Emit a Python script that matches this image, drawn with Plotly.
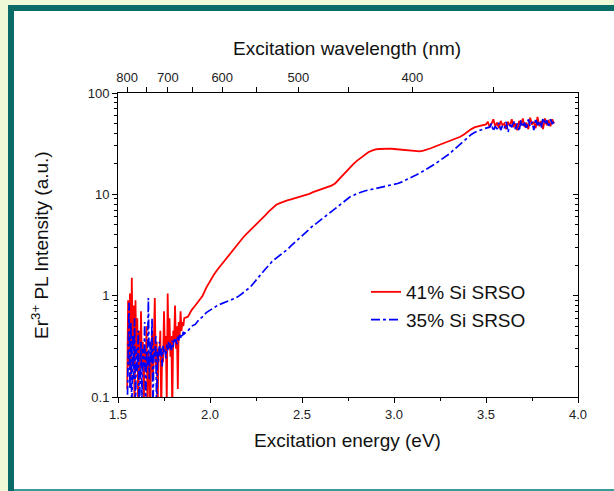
import plotly.graph_objects as go

# ---------------- data ----------------
# 41% Si SRSO (red, solid)
red_e_low = [1.550, 1.555, 1.560, 1.565, 1.570, 1.575, 1.580, 1.585, 1.590, 1.595,
             1.600, 1.605, 1.610, 1.615, 1.620, 1.625, 1.630, 1.635, 1.640, 1.645,
             1.650, 1.655, 1.660, 1.665, 1.670, 1.675, 1.680, 1.685, 1.690, 1.695,
             1.700, 1.705, 1.710, 1.715, 1.720, 1.725, 1.730, 1.735, 1.740, 1.745,
             1.750, 1.755, 1.760, 1.765, 1.770, 1.775, 1.780, 1.785, 1.790, 1.795,
             1.800, 1.805, 1.810, 1.815, 1.820, 1.825, 1.830, 1.835, 1.840, 1.845,
             1.850, 1.855, 1.860]
red_i_low = [0.12, 0.90, 0.20, 1.05, 0.15, 1.50, 0.30, 0.80, 0.07, 0.90,
             0.25, 0.60, 0.06, 0.45, 0.15, 0.70, 0.20, 0.35, 0.07, 0.30,
             0.18, 0.50, 0.08, 0.28, 0.20, 0.06, 0.25, 0.45, 0.15, 0.30,
             0.95, 0.20, 0.35, 0.06, 0.30, 0.25, 0.45, 0.07, 0.30, 0.22,
             0.70, 0.28, 0.40, 0.09, 1.05, 0.30, 0.60, 0.25, 0.40, 0.07,
             0.45, 0.35, 0.80, 0.30, 0.50, 0.12, 0.55, 0.40, 0.70, 0.45,
             0.55, 0.50, 0.60]
red_e_mid = [1.88, 1.90, 1.92, 1.94, 1.96, 1.98, 2.00, 2.02, 2.04, 2.06,
             2.08, 2.10, 2.12, 2.14, 2.16, 2.18, 2.20, 2.22, 2.24, 2.26,
             2.28, 2.30, 2.32, 2.34, 2.36, 2.38, 2.40, 2.42, 2.44, 2.46,
             2.48, 2.50, 2.52, 2.54, 2.56, 2.58, 2.60, 2.62, 2.64, 2.66,
             2.68, 2.70, 2.72, 2.74, 2.76, 2.78, 2.80, 2.82, 2.84, 2.86,
             2.88, 2.90, 2.92, 2.94, 2.96, 2.98, 3.00, 3.02, 3.04, 3.06,
             3.08, 3.10, 3.12, 3.14, 3.16, 3.18, 3.20, 3.22, 3.24, 3.26,
             3.28, 3.30, 3.32, 3.34, 3.36, 3.38, 3.40, 3.42, 3.44, 3.46,
             3.48, 3.50]
red_i_mid = [0.62, 0.72, 0.80, 0.90, 1.00, 1.20, 1.40, 1.60, 1.80, 2.00,
             2.25, 2.50, 2.80, 3.10, 3.40, 3.75, 4.10, 4.45, 4.80, 5.20,
             5.60, 6.20, 6.80, 7.40, 7.90, 8.20, 8.50, 8.70, 8.90, 9.10,
             9.30, 9.50, 9.80, 10.1, 10.5, 10.8, 11.2, 11.5, 11.9, 12.2,
             12.8, 14.0, 15.5, 17.0, 18.5, 20.0, 21.5, 23.0, 24.5, 26.0,
             27.0, 27.8, 28.0, 28.2, 28.3, 28.2, 28.0, 27.8, 27.6, 27.3,
             27.0, 26.8, 26.5, 26.6, 27.0, 27.6, 28.5, 29.5, 30.5, 31.5,
             32.5, 33.5, 34.5, 35.5, 37.0, 39.0, 41.5, 44.0, 46.0, 47.0,
             48.0, 49.0]
red_e_high = [3.51, 3.52, 3.53, 3.54, 3.55, 3.56, 3.57, 3.58, 3.59, 3.60,
              3.61, 3.62, 3.63, 3.64, 3.65, 3.66, 3.67, 3.68, 3.69, 3.70,
              3.71, 3.72, 3.73, 3.74, 3.75, 3.76, 3.77, 3.78, 3.79, 3.80,
              3.81, 3.82, 3.83, 3.84, 3.85, 3.86, 3.87]
red_i_high = [52, 46, 50, 55, 47, 51, 45, 53, 48, 50,
              44, 52, 47, 55, 46, 50, 43, 53, 48, 56,
              46, 51, 44, 57, 49, 52, 45, 58, 47, 53,
              44, 56, 48, 54, 47, 55, 50]

# 35% Si SRSO (blue, dash-dot)
blue_e_low = [1.550, 1.555, 1.560, 1.565, 1.570, 1.575, 1.580, 1.585, 1.590, 1.595,
              1.600, 1.605, 1.610, 1.615, 1.620, 1.625, 1.630, 1.635, 1.640, 1.645,
              1.650, 1.655, 1.660, 1.665, 1.670, 1.675, 1.680, 1.685, 1.690, 1.695,
              1.700, 1.705, 1.710, 1.715, 1.720, 1.725, 1.730, 1.735, 1.740, 1.745,
              1.750, 1.755, 1.760, 1.765, 1.770, 1.775, 1.780, 1.785, 1.790, 1.795,
              1.800, 1.805, 1.810, 1.815, 1.820, 1.825, 1.830, 1.835, 1.840, 1.845,
              1.850, 1.855]
blue_i_low = [0.07, 0.30, 0.85, 0.12, 0.55, 0.06, 0.40, 0.15, 0.60, 0.07,
              0.30, 0.18, 0.45, 0.06, 0.25, 0.35, 0.09, 0.30, 0.20, 0.55,
              0.07, 0.28, 0.20, 0.95, 0.15, 0.35, 0.22, 0.60, 0.07, 0.30,
              0.25, 0.40, 0.07, 0.28, 0.22, 0.35, 0.25, 0.30, 0.20, 0.32,
              0.27, 0.30, 0.24, 0.33, 0.28, 0.35, 0.30, 0.34, 0.29, 0.36,
              0.31, 0.38, 0.34, 0.37, 0.33, 0.40, 0.36, 0.41, 0.38, 0.42,
              0.40, 0.44]
blue_e_mid = [1.86, 1.88, 1.90, 1.92, 1.94, 1.96, 1.98, 2.00, 2.02, 2.04,
              2.06, 2.08, 2.10, 2.12, 2.14, 2.16, 2.18, 2.20, 2.22, 2.24,
              2.26, 2.28, 2.30, 2.32, 2.34, 2.36, 2.38, 2.40, 2.42, 2.44,
              2.46, 2.48, 2.50, 2.52, 2.54, 2.56, 2.58, 2.60, 2.62, 2.64,
              2.66, 2.68, 2.70, 2.72, 2.74, 2.76, 2.78, 2.80, 2.82, 2.84,
              2.86, 2.88, 2.90, 2.92, 2.94, 2.96, 2.98, 3.00, 3.02, 3.04,
              3.06, 3.08, 3.10, 3.12, 3.14, 3.16, 3.18, 3.20, 3.22, 3.24,
              3.26, 3.28, 3.30, 3.32, 3.34, 3.36, 3.38, 3.40, 3.42, 3.44,
              3.46, 3.48, 3.50, 3.52]
blue_i_mid = [0.42, 0.45, 0.50, 0.52, 0.58, 0.62, 0.68, 0.72, 0.76, 0.80,
              0.83, 0.86, 0.88, 0.92, 0.95, 1.00, 1.07, 1.15, 1.22, 1.35,
              1.50, 1.65, 1.82, 2.00, 2.20, 2.35, 2.50, 2.65, 2.85, 3.10,
              3.35, 3.65, 3.95, 4.25, 4.55, 4.90, 5.20, 5.55, 5.90, 6.30,
              6.70, 7.20, 7.70, 8.20, 8.80, 9.40, 9.80, 10.2, 10.5, 10.8,
              11.0, 11.2, 11.4, 11.6, 11.8, 12.0, 12.2, 12.4, 12.8, 13.2,
              13.7, 14.2, 14.8, 15.5, 16.2, 17.0, 17.8, 18.8, 19.8, 21.0,
              22.2, 23.5, 25.0, 27.0, 29.0, 31.5, 34.0, 36.5, 39.0, 41.0,
              42.5, 44.0, 45.0, 46.0]
blue_e_high = [3.53, 3.54, 3.55, 3.56, 3.57, 3.58, 3.59, 3.60, 3.61, 3.62,
               3.63, 3.64, 3.65, 3.66, 3.67, 3.68, 3.69, 3.70, 3.71, 3.72,
               3.73, 3.74, 3.75, 3.76, 3.77, 3.78, 3.79, 3.80, 3.81, 3.82,
               3.83, 3.84, 3.85, 3.86, 3.87]
blue_i_high = [50, 42, 47, 44, 51, 43, 48, 45, 52, 41,
               49, 46, 53, 44, 50, 42, 54, 46, 51, 44,
               55, 47, 52, 43, 56, 48, 53, 45, 57, 49,
               54, 46, 55, 50, 52]

series_names = ["41% Si SRSO", "35% Si SRSO"]

# axis ticks
energy_ticks = [1.5, 2.0, 2.5, 3.0, 3.5, 4.0]
energy_ticktext = ["1.5", "2.0", "2.5", "3.0", "3.5", "4.0"]
wl_major = [800, 700, 600, 500, 400]
wl_minor = [750, 650, 550, 450, 350]
int_ticks = [0.1, 1, 10, 100]
int_ticktext = ["0.1", "1", "10", "100"]

HC = 1239.84  # eV*nm

# ---------------- figure ----------------
FONT = "Liberation Sans, Arial, sans-serif"
W, H = 614, 491
L, R, T, B = 118, 36, 93, 94
pw, ph = W - L - R, H - T - B


def px(x):
    return (x - L) / pw


def py(y):
    return (H - B - y) / ph


red_e = red_e_low + red_e_mid + red_e_high
red_i = red_i_low + red_i_mid + red_i_high
blue_e = blue_e_low + blue_e_mid + blue_e_high
blue_i = blue_i_low + blue_i_mid + blue_i_high

fig = go.Figure()
fig.add_trace(go.Scatter(x=red_e, y=red_i, mode="lines", name=series_names[0],
                         line=dict(color="#ff0000", width=1.8)))
fig.add_trace(go.Scatter(x=blue_e, y=blue_i, mode="lines", name=series_names[1],
                         line=dict(color="#0000ff", width=1.7, dash="dashdot")))
# empty trace so that the top (wavelength) and right axes get drawn
fig.add_trace(go.Scatter(x=[None], y=[None], xaxis="x2", yaxis="y2", mode="lines",
                         showlegend=False, hoverinfo="skip"))

minor_y = [m * 10 ** d for d in (-1, 0, 1) for m in range(2, 10)]
wl_all = wl_major + wl_minor
top_vals = [HC / w for w in wl_all]
top_text = [str(w) for w in wl_major] + ["" for _ in wl_minor]

axis_common = dict(showline=True, linecolor="black", linewidth=1,
                   showgrid=False, zeroline=False, tickcolor="black",
                   tickfont=dict(family=FONT, size=13, color="#222"))

fig.update_layout(
    width=W, height=H,
    margin=dict(l=L, r=R, t=T, b=B, pad=0),
    paper_bgcolor="#eff8d7",
    plot_bgcolor="white",
    showlegend=True,
    legend=dict(x=px(366), y=py(273), xanchor="left", yanchor="top",
                bgcolor="rgba(0,0,0,0)", font=dict(family=FONT, size=19, color="#111"),
                tracegroupgap=0, itemwidth=30),
    xaxis=dict(range=[1.5, 4.0], tickmode="array", tickvals=energy_ticks,
               ticktext=energy_ticktext, ticks="outside", ticklen=5,
               minor=dict(dtick=0.25, tick0=1.5, ticks="outside", ticklen=3, tickcolor="black"),
               mirror=True, **axis_common),
    xaxis2=dict(range=[1.5, 4.0], overlaying="x", side="top", anchor="y",
                tickmode="array", tickvals=top_vals, ticktext=top_text,
                ticks="outside", ticklen=5, **axis_common),
    yaxis=dict(type="log", range=[-1, 2], tickmode="array", tickvals=int_ticks,
               ticktext=int_ticktext, ticks="outside", ticklen=5,
               minor=dict(tickvals=minor_y, ticks="outside", ticklen=3, tickcolor="black"),
               mirror=True, **axis_common),
    yaxis2=dict(type="log", range=[-1, 2], overlaying="y", side="right", anchor="x",
                tickmode="array", tickvals=int_ticks, ticks="inside", ticklen=5,
                showticklabels=False,
                minor=dict(tickvals=minor_y, ticks="inside", ticklen=3, tickcolor="black"),
                **axis_common),
)

# frame of the slide
shapes = [
    dict(type="rect", xref="paper", yref="paper", x0=px(8), x1=px(W), y0=py(H), y1=py(5),
         fillcolor="#0b6b68", line=dict(width=0), layer="below"),
    dict(type="rect", xref="paper", yref="paper", x0=px(14), x1=px(W), y0=py(489), y1=py(11),
         fillcolor="white", line=dict(width=0), layer="below"),
    dict(type="rect", xref="paper", yref="paper", x0=px(14), x1=px(W), y0=py(H), y1=py(489),
         fillcolor="#3b9b97", line=dict(width=0), layer="below"),
]
fig.update_layout(shapes=shapes)

title_font = dict(family=FONT, size=19, color="#111")
fig.add_annotation(text="Excitation energy (eV)", xref="paper", yref="paper",
                   x=px(347), y=py(440), showarrow=False, xanchor="center", yanchor="middle",
                   font=title_font)
fig.add_annotation(text="Excitation wavelength (nm)", xref="paper", yref="paper",
                   x=px(347), y=py(48), showarrow=False, xanchor="center", yanchor="middle",
                   font=title_font)
fig.add_annotation(text="Er<sup>3+</sup> PL Intensity (a.u.)", xref="paper", yref="paper",
                   x=px(40), y=py(245), showarrow=False, xanchor="center", yanchor="middle",
                   textangle=-90, font=title_font)

fig.write_html("out.html")
